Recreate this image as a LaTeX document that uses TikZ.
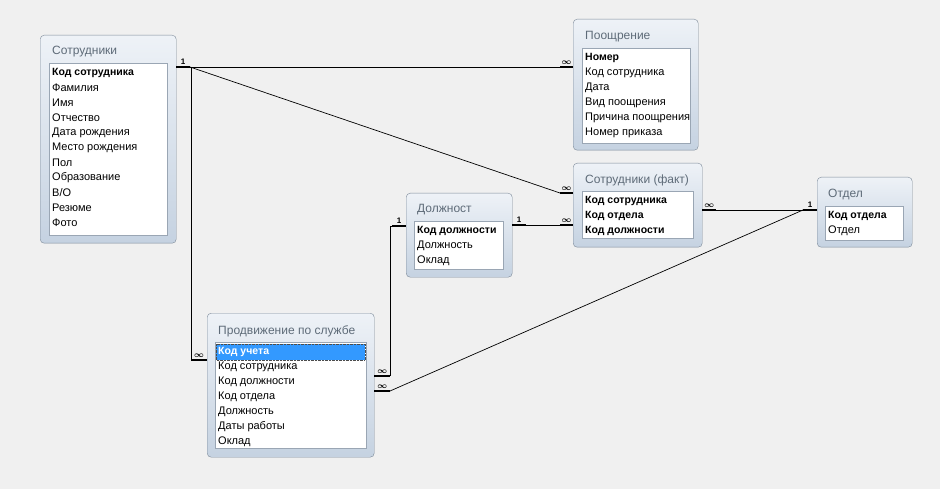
\documentclass[tikz,border=0pt]{standalone}
\usepackage{amsmath}
\usepackage{fontspec}
\setmainfont{Liberation Sans}
\definecolor{bg}{HTML}{F0F0F0}
\definecolor{boxline}{HTML}{7D8A99}
\definecolor{boxtop}{HTML}{EEF2F7}
\definecolor{boxbot}{HTML}{C5D2E1}
\definecolor{listline}{HTML}{9AA6B4}
\definecolor{titlegray}{HTML}{5E6B78}
\definecolor{selblue}{HTML}{3399FF}
\tikzset{
  tbl/.style={draw=boxline, rounded corners=4pt, top color=boxtop, bottom color=boxbot, anchor=north west, inner sep=0pt},
  lst/.style={draw=listline, fill=white, anchor=north west, inner sep=0pt},
  ttl/.style={anchor=west, text=titlegray, font=\fontsize{12}{14}\selectfont, inner sep=0pt},
  fld/.style={anchor=west, font=\fontsize{11}{13}\selectfont, inner sep=0pt},
  key/.style={fld, font=\fontsize{10.5}{13}\selectfont\bfseries},
  stub/.style={line width=2.6pt},
  rel/.style={line width=0.7pt},
  card/.style={font=\fontsize{8}{8}\selectfont\bfseries, inner sep=1pt}
}
\begin{document}
\begin{tikzpicture}[x=1pt,y=-1pt]
  \fill[bg] (0,0) rectangle (940,489);
  \useasboundingbox (0,0) rectangle (940,489);

  % Сотрудники
  \node[tbl, minimum width=136pt, minimum height=208pt] (emp) at (40,35) {};
  \node[lst, minimum width=118pt, minimum height=172pt] (emp list) at (49,63) {};
  \node[ttl] (emp title) at (52,52) {Сотрудники};
  \node[key] (emp-0) at (52,73) {Код сотрудника};
  \foreach \t [count=\i] in {Фамилия, Имя, Отчество, Дата рождения, Место рождения,
      Пол, Образование, В/О, Резюме, Фото}
    \node[fld] (emp-\i) at (52,{73+15*\i}) {\t};

  % Поощрение
  \node[tbl, minimum width=125pt, minimum height=131pt] (rew) at (573,19) {};
  \node[lst, minimum width=108pt, minimum height=95pt] (rew list) at (582,48) {};
  \node[ttl] (rew title) at (585,37) {Поощрение};
  \node[key] (rew-0) at (585,58) {Номер};
  \foreach \t [count=\i] in {Код сотрудника, Дата, Вид поощрения, Причина поощрения, Номер приказа}
    \node[fld] (rew-\i) at (585,{58+15*\i}) {\t};

  % Сотрудники (факт)
  \node[tbl, minimum width=129pt, minimum height=84pt] (fact) at (573,163) {};
  \node[lst, minimum width=111pt, minimum height=47pt] (fact list) at (582,191) {};
  \node[ttl] (fact title) at (585,180) {Сотрудники (факт)};
  \foreach \t [count=\i from 0] in {Код сотрудника, Код отдела, Код должности}
    \node[key] (fact-\i) at (585,{201+15*\i}) {\t};

  % Должност
  \node[tbl, minimum width=106pt, minimum height=84pt] (pos) at (406,193) {};
  \node[lst, minimum width=89pt, minimum height=48pt] (pos list) at (414,221) {};
  \node[ttl] (pos title) at (417,210) {Должност};
  \node[key] (pos-0) at (417,231) {Код должности};
  \foreach \t [count=\i] in {Должность, Оклад}
    \node[fld] (pos-\i) at (417,{231+15*\i}) {\t};

  % Продвижение по службе
  \node[tbl, minimum width=167pt, minimum height=144pt] (prom) at (207,313) {};
  \node[lst, minimum width=151pt, minimum height=106pt] (prom list) at (215,342) {};
  \node[ttl] (prom title) at (218,331) {Продвижение по службе};
  \fill[selblue] (216,344) rectangle (365,360);
  \draw[densely dotted, black!70] (216,344) rectangle (365,360);
  \node[key, text=white] (prom-0) at (218,352) {Код учета};
  \foreach \t [count=\i] in {Код сотрудника, Код должности, Код отдела, Должность, Даты работы, Оклад}
    \node[fld] (prom-\i) at (218,{352+15*\i}) {\t};

  % Отдел
  \node[tbl, minimum width=95pt, minimum height=70pt] (dep) at (817,177) {};
  \node[lst, minimum width=78pt, minimum height=34pt] (dep list) at (825,206) {};
  \node[ttl] (dep title) at (828,195) {Отдел};
  \node[key] (dep-0) at (828,216) {Код отдела};
  \node[fld] (dep-1) at (828,231) {Отдел};

  % связи
  \coordinate (c-emp) at (190,67);
  \coordinate (c-rew) at (560,67);
  \coordinate (c-fact1) at (560,193);
  \coordinate (c-fact2) at (560,225);
  \coordinate (c-fact3) at (716,210);
  \coordinate (c-prom1) at (191,360);
  \coordinate (c-prom2) at (390,376);
  \coordinate (c-prom3) at (390,391);
  \coordinate (c-pos1) at (392,226);
  \coordinate (c-pos2) at (526,225);
  \coordinate (c-dep) at (803,210);

  \draw[stub] (emp.east |- c-emp) -- node[card, above] {1} (c-emp);
  \draw[stub] (c-rew) -- node[card, above] {$\boldsymbol{\infty}$} (rew.west |- c-rew);
  \draw[stub] (c-fact1) -- node[card, above] {$\boldsymbol{\infty}$} (fact.west |- c-fact1);
  \draw[stub] (c-fact2) -- node[card, above] {$\boldsymbol{\infty}$} (fact.west |- c-fact2);
  \draw[stub] (fact.east |- c-fact3) -- node[card, above] {$\boldsymbol{\infty}$} (c-fact3);
  \draw[stub] (c-prom1) -- node[card, above] {$\boldsymbol{\infty}$} (prom.west |- c-prom1);
  \draw[stub] (prom.east |- c-prom2) -- node[card, above] {$\boldsymbol{\infty}$} (c-prom2);
  \draw[stub] (prom.east |- c-prom3) -- node[card, above] {$\boldsymbol{\infty}$} (c-prom3);
  \draw[stub] (c-pos1) -- node[card, above] {1} (pos.west |- c-pos1);
  \draw[stub] (pos.east |- c-pos2) -- node[card, above] {1} (c-pos2);
  \draw[stub] (c-dep) -- node[card, above] {1} (dep.west |- c-dep);

  \draw[rel] (c-emp) -- (c-rew);
  \draw[rel] (c-emp) -- (c-fact1);
  \draw[rel] (c-emp) -| (c-prom1);
  \draw[rel] (c-pos2) -- (c-fact2);
  \draw[rel] (c-pos1) -| (c-prom2);
  \draw[rel] (c-fact3) -- (c-dep);
  \draw[rel] (c-prom3) -- (c-dep);
\end{tikzpicture}
\end{document}
